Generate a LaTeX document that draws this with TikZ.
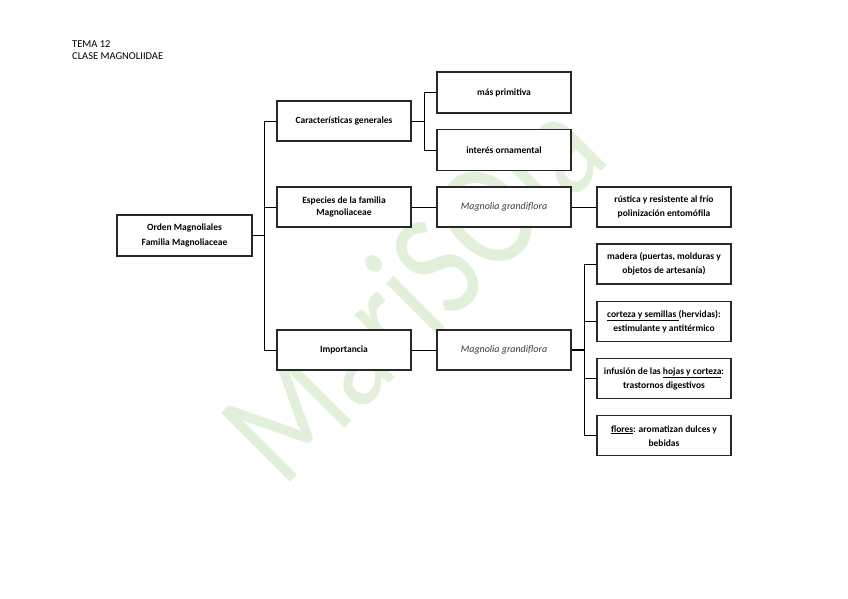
\documentclass[tikz,border=0pt]{standalone}
\usepackage{graphicx}
\usepackage{fontspec}
\setmainfont{Carlito}
\definecolor{wm}{RGB}{226,239,218}
\definecolor{bordc}{RGB}{40,40,40}
\definecolor{itc}{RGB}{60,60,60}
\begin{document}
\begin{tikzpicture}[x=1pt,y=-1pt,
  box/.style={draw=bordc, line width=1.2pt, fill=white, rectangle, inner sep=1pt,
    minimum width=134pt, minimum height=40pt, align=center,
    font=\fontsize{9.5}{11.5}\selectfont\bfseries},
  itbox/.style={box, font=\fontsize{10}{12}\selectfont\itshape, text=itc},
  conn/.style={draw=black, line width=0.9pt},
  thick conn/.style={draw=black, line width=1.6pt},
  hdr/.style={anchor=west, inner sep=0pt, font=\fontsize{10.5}{12}\selectfont}
]
\useasboundingbox (0,0) rectangle (848,599);
\fill[white] (0,0) rectangle (848,599);

% watermark
\node[rotate=45, anchor=base west, inner sep=0pt, text=wm,
  font=\fontsize{152}{152}\selectfont] (wmk) at (283,490)
  {\scalebox{0.82}[1]{MariSOla}};

% header
\node[hdr] (t1) at (72,44) {TEMA 12};
\node[hdr] (t2) at (72,56) {CLASE MAGNOLIIDAE};

% junction coordinates
\coordinate (v1) at (264,0);
\coordinate (v2) at (424,0);
\coordinate (v3) at (584,0);

% boxes
\node[box, minimum width=135pt, minimum height=41pt] (root) at (184.5,235.5)
  {Orden Magnoliales\\[3.5pt]Familia Magnoliaceae};
\node[box] (car) at (344,121) {Características generales};
\node[box] (esp) at (344,207) {Especies de la familia\\Magnoliaceae};
\node[box] (imp) at (344,350) {Importancia};

\node[box, minimum height=41pt] (mas) at (504,92.5) {más primitiva};
\node[box, minimum height=41pt] (int) at (504,150) {interés ornamental};
\node[itbox] (mg1) at (504,207) {Magnolia grandiflora};
\node[itbox] (mg2) at (504,350) {Magnolia grandiflora};

\node[box] (rus) at (664,207) {rústica y resistente al frío\\[2.5pt]polinización entomófila};
\node[box] (mad) at (664,264) {madera (puertas, molduras y\\[2.5pt]objetos de artesanía)};
\node[box] (cor) at (664,321.5) {\underline{corteza y semillas\ }(hervidas):\\[2.5pt]estimulante y antitérmico};
\node[box] (inf) at (664,378.7) {infusión de las \underline{hojas y corteza}:\\[2.5pt]trastornos digestivos};
\node[box] (flo) at (664,435.8) {\underline{flores}: aromatizan dulces y\\[2.5pt]bebidas};

% connectors
\draw[thick conn] (root.east) -- (root.east -| v1);
\draw[conn] (car.west) -- (car.west -| v1) |- (imp.west);
\draw[conn] (esp.west) -- (esp.west -| v1);

\draw[conn] (car.east) -- (car.east -| v2);
\draw[conn] (mas.west) -- (mas.west -| v2) |- (int.west);

\draw[conn] (esp.east) -- (mg1.west);
\draw[conn] (mg1.east) -- (rus.west);
\draw[conn] (imp.east) -- (mg2.west);

\draw[thick conn] (mg2.east) -- (mg2.east -| v3);
\draw[conn] (mad.west) -- (mad.west -| v3) |- (flo.west);
\draw[conn] (cor.west) -- (cor.west -| v3);
\draw[conn] (inf.west) -- (inf.west -| v3);
\end{tikzpicture}
\end{document}
